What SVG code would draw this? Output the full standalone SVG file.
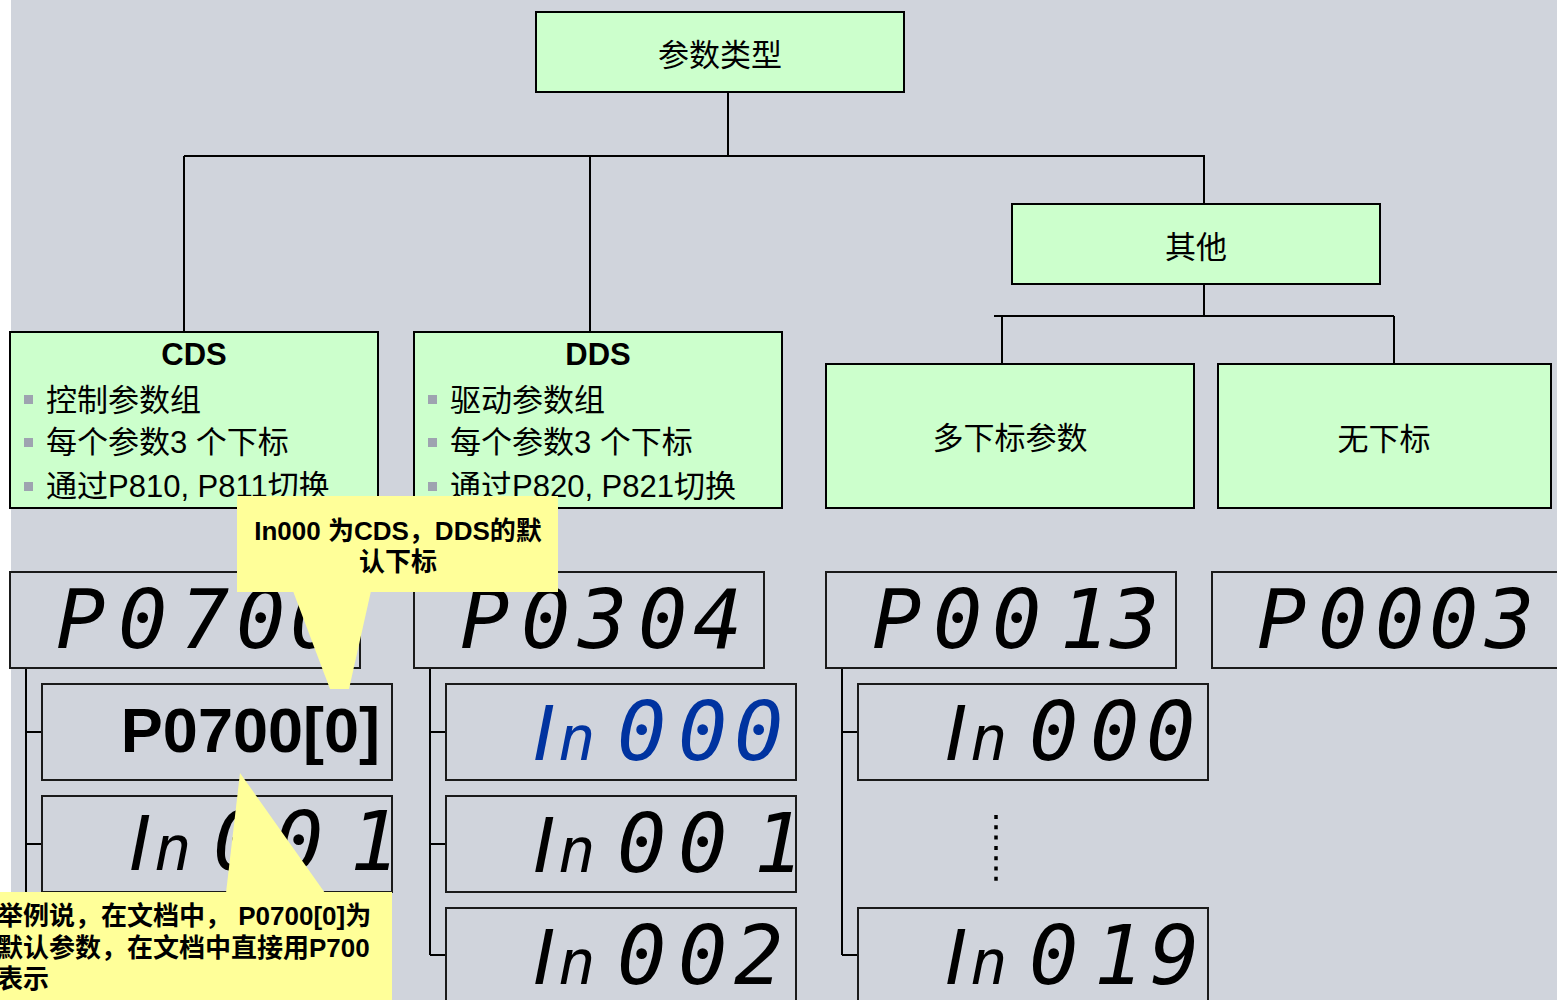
<svg xmlns="http://www.w3.org/2000/svg" width="1557" height="1000" viewBox="0 0 1557 1000">
<style>
.g{fill:#CCFFCC;stroke:#000;stroke-width:2}
.d{fill:none;stroke:#1a1a1a;stroke-width:2}
.c{fill:none;stroke:#000;stroke-width:2}
.t{font-family:"Liberation Sans","Noto Sans CJK SC",sans-serif;fill:#000}
.tc{font-size:31px;text-anchor:middle}
.tb{font-size:31px}
.h{font-size:31px;font-weight:bold;text-anchor:middle}
.seg{font-family:"DejaVu Sans Mono",monospace;font-style:italic;font-size:82px;fill:#000}
.sn{font-size:62px}
.si{font-family:"Liberation Sans",sans-serif;font-size:80px}
.blue{fill:#0033A0}
.bul{fill:#9EA3B0}
.y{fill:#FFFF99}
.yt{font-family:"Liberation Sans","Noto Sans CJK SC",sans-serif;font-size:26px;font-weight:bold;fill:#000}
</style>
<rect x="0" y="0" width="1557" height="1000" fill="#FFFFFF"/>
<rect x="11" y="0" width="1546" height="1000" fill="#D0D4DC"/>

<g id="connectors">
<path class="c" d="M728 92V156M184 156H1205M184 156V332M590 156V332M1204 156V204"/>
<path class="c" d="M1204 284V316M994 316H1394M1002 316V364M1394 316V364"/>
<path class="c" d="M26 668V1000M26 732H42M26 844H42"/>
<path class="c" d="M430 668V955M430 732H446M430 844H446M430 955H446"/>
<path class="c" d="M842 668V955M842 732H858M842 955H858"/>
</g>

<g id="n-root"><rect class="g" x="536" y="12" width="368" height="80"/><text class="t tc" x="720" y="66">参数类型</text></g>
<g id="n-other"><rect class="g" x="1012" y="204" width="368" height="80"/><text class="t tc" x="1196" y="258">其他</text></g>
<g id="n-multi"><rect class="g" x="826" y="364" width="368" height="144"/><text class="t tc" x="1010" y="449">多下标参数</text></g>
<g id="n-none"><rect class="g" x="1218" y="364" width="333" height="144"/><text class="t tc" x="1384" y="450">无下标</text></g>

<g id="n-cds"><rect class="g" x="10" y="332" width="368" height="176"/>
<text class="t h" x="194" y="365">CDS</text>
<rect class="bul" x="24" y="395" width="9" height="9"/><text class="t tb" x="46" y="411">控制参数组</text>
<rect class="bul" x="24" y="438" width="9" height="9"/><text class="t tb" x="46" y="453">每个参数3 个下标</text>
<rect class="bul" x="24" y="482" width="9" height="9"/><text class="t tb" x="46" y="497">通过P810, P811切换</text>
</g>
<g id="n-dds"><rect class="g" x="414" y="332" width="368" height="176"/>
<text class="t h" x="598" y="365">DDS</text>
<rect class="bul" x="428" y="395" width="9" height="9"/><text class="t tb" x="450" y="411">驱动参数组</text>
<rect class="bul" x="428" y="438" width="9" height="9"/><text class="t tb" x="450" y="453">每个参数3 个下标</text>
<rect class="bul" x="428" y="482" width="9" height="9"/><text class="t tb" x="450" y="497">通过P820, P821切换</text>
</g>

<g id="n-p0700"><rect class="d" x="10" y="572" width="350" height="96"/><text class="seg" x="56 118 180 236 290" y="648">P0700</text></g>
<g id="n-p0700-0"><rect class="d" x="42" y="684" width="350" height="96"/><text class="t" x="380" y="752" font-size="63" font-weight="bold" text-anchor="end">P0700[0]</text></g>
<g id="n-cds-in001"><rect class="d" x="42" y="796" width="350" height="96"/><text class="seg" y="870"><tspan x="128" class="si">I</tspan><tspan x="154" class="sn">n</tspan><tspan x="213">0</tspan><tspan x="274">0</tspan><tspan x="350">1</tspan></text></g>

<g id="n-p0304"><rect class="d" x="414" y="572" width="350" height="96"/><text class="seg" x="460 521 578 638 693" y="648">P0304</text></g>
<g id="n-dds-in000"><rect class="d" x="446" y="684" width="350" height="96"/><text class="seg blue" y="760"><tspan x="532" class="si">I</tspan><tspan x="558" class="sn">n</tspan><tspan x="617">0</tspan><tspan x="678">0</tspan><tspan x="734">0</tspan></text></g>
<g id="n-dds-in001"><rect class="d" x="446" y="796" width="350" height="96"/><text class="seg" y="872"><tspan x="532" class="si">I</tspan><tspan x="558" class="sn">n</tspan><tspan x="617">0</tspan><tspan x="678">0</tspan><tspan x="754">1</tspan></text></g>
<g id="n-dds-in002"><rect class="d" x="446" y="908" width="350" height="100"/><text class="seg" y="984"><tspan x="532" class="si">I</tspan><tspan x="558" class="sn">n</tspan><tspan x="617">0</tspan><tspan x="678">0</tspan><tspan x="734">2</tspan></text></g>

<g id="n-p0013"><rect class="d" x="826" y="572" width="350" height="96"/><text class="seg" x="872 933 992 1060 1110" y="648">P0013</text></g>
<g id="n-m-in000"><rect class="d" x="858" y="684" width="350" height="96"/><text class="seg" y="760"><tspan x="944" class="si">I</tspan><tspan x="970" class="sn">n</tspan><tspan x="1029">0</tspan><tspan x="1090">0</tspan><tspan x="1146">0</tspan></text></g>
<g id="n-dots"><line x1="996" y1="815" x2="996" y2="882" stroke="#000" stroke-width="3.5" stroke-dasharray="4 6.3"/></g>
<g id="n-m-in019"><rect class="d" x="858" y="908" width="350" height="100"/><text class="seg" y="984"><tspan x="944" class="si">I</tspan><tspan x="970" class="sn">n</tspan><tspan x="1029">0</tspan><tspan x="1094">1</tspan><tspan x="1150">9</tspan></text></g>

<g id="n-p0003"><rect class="d" x="1212" y="572" width="360" height="96"/><text class="seg" x="1257 1318 1375 1429 1485" y="648">P0003</text></g>

<g id="callout-1">
<rect class="y" x="237" y="496" width="321" height="96"/>
<polygon class="y" points="293,591 371,591 349,689 330,689"/>
<text class="yt" text-anchor="middle"><tspan x="398" y="540">In000 为CDS，DDS的默</tspan><tspan x="398" y="571">认下标</tspan></text>
</g>
<g id="callout-2">
<polygon class="y" points="240,773 226,893 325,893"/>
<rect class="y" x="0" y="892" width="392" height="108"/>
<text class="yt"><tspan x="-3" y="925">举例说，在文档中， P0700[0]为</tspan><tspan x="-3" y="957">默认参数，在文档中直接用P700</tspan><tspan x="-3" y="988">表示</tspan></text>
</g>
</svg>
